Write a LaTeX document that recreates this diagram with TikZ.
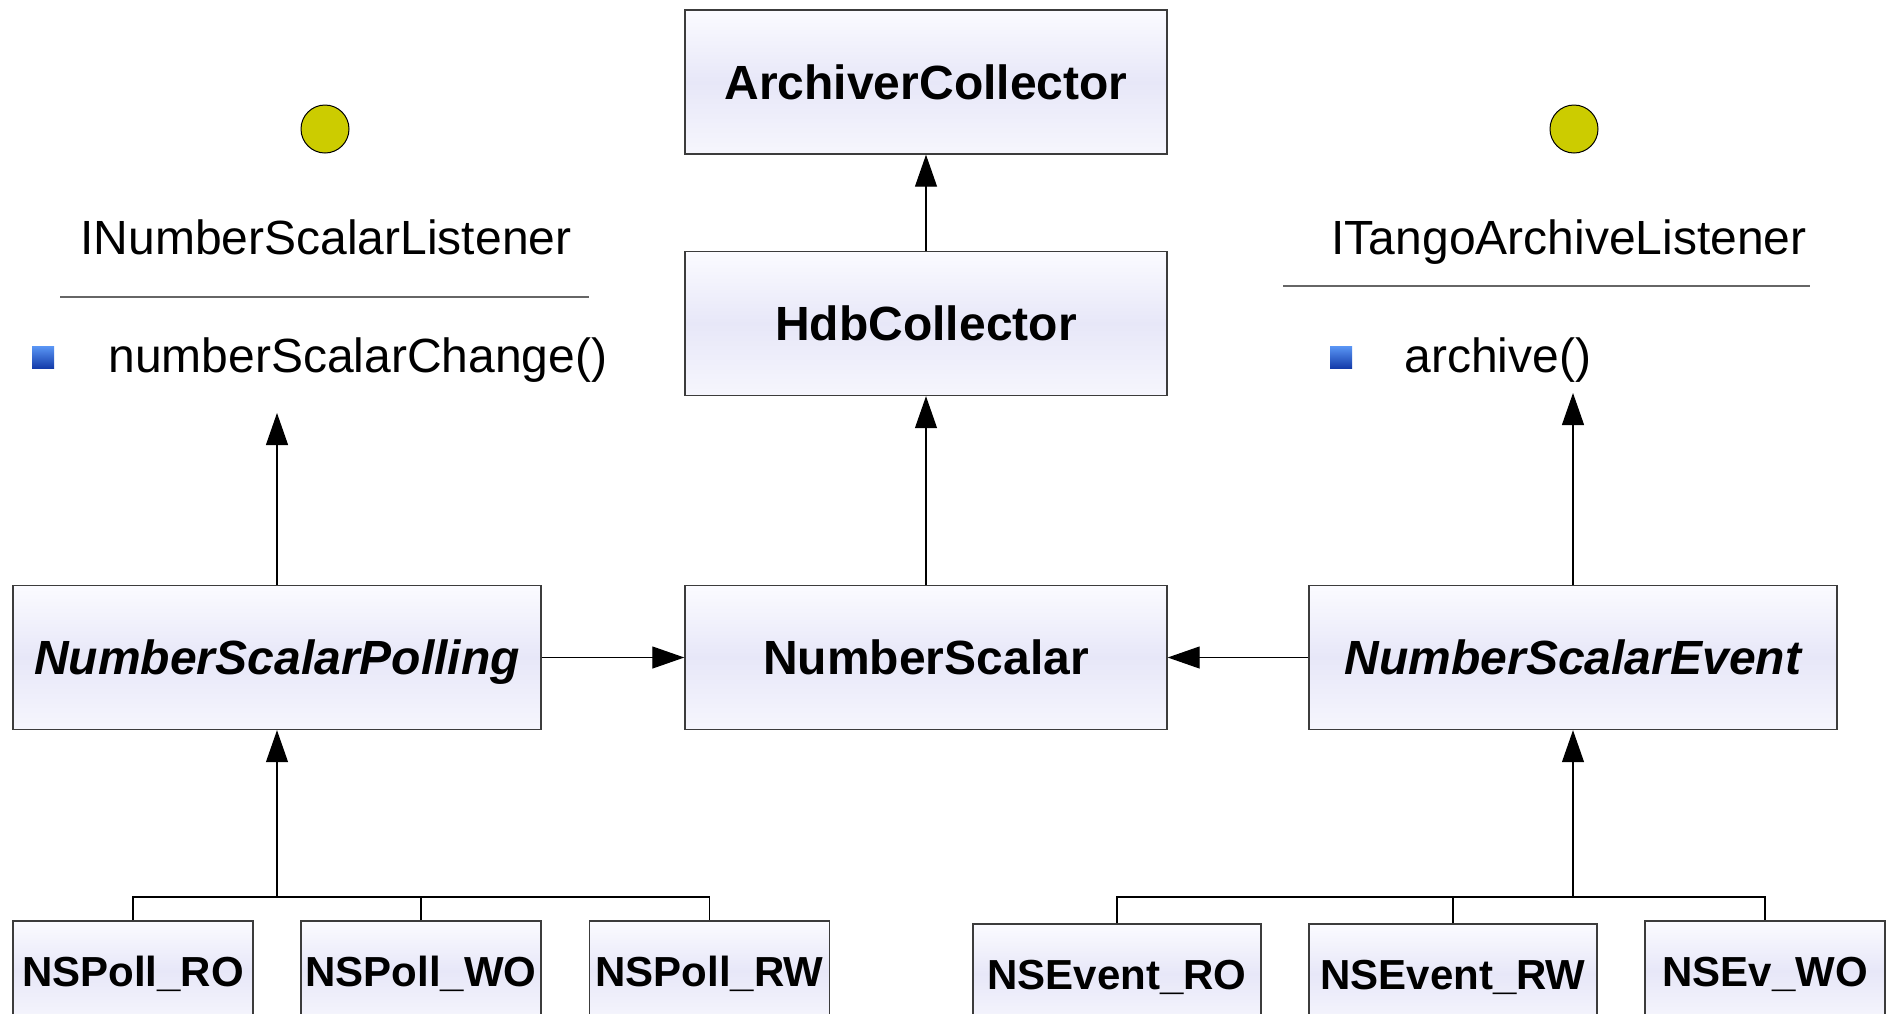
\documentclass[tikz,border=0pt]{standalone}
\usepackage{fontspec}
\setmainfont{Liberation Sans}
\usetikzlibrary{arrows.meta}
\definecolor{boxtop}{RGB}{251,251,255}
\definecolor{boxmid}{RGB}{231,231,248}
\definecolor{boxbot}{RGB}{246,246,253}
\definecolor{boxline}{RGB}{60,60,60}
\definecolor{iface}{RGB}{204,204,0}
\definecolor{pucehaut}{RGB}{90,150,245}
\definecolor{pucebas}{RGB}{20,60,170}

\begin{document}
\begin{tikzpicture}[x=0.5pt,y=-0.5pt,
	classe/.style={draw=boxline,line width=0.7pt,top color=boxtop,bottom color=boxbot,middle color=boxmid,
		minimum width=241pt,minimum height=72pt,inner sep=0pt,text height=17.2pt,text depth=0pt,
		font=\fontsize{24}{28}\selectfont\bfseries},
	fille/.style={classe,minimum width=120pt,minimum height=50pt,text height=15pt,
		font=\fontsize{21}{25}\selectfont\bfseries},
	interface/.style={inner sep=0pt,text height=17.2pt,text depth=0pt,font=\fontsize{24}{28}\selectfont},
	rond/.style={circle,draw,line width=0.5pt,fill=iface,minimum size=24pt,inner sep=0pt},
	puce/.style={rectangle,top color=pucehaut,bottom color=pucebas,minimum size=11pt,inner sep=0pt},
	separe/.style={draw=black!60,line width=0.7pt},
	herite/.style={-{Triangle[length=16pt,width=11pt]},line width=0.6pt},
	lien/.style={line width=0.6pt}]
					%\draw[help lines] (0,0) grid[step=100] (1891,1013);
					\path[fill=white,use as bounding box] (0,0) rectangle (1891,1013);
					%COLLECTEURS
					\node[classe] (ac) at (926,82) {ArchiverCollector};
					\node[classe] (hdb) at (926,323.5) {HdbCollector};
					\node[classe] (ns) at (926,657.5) {NumberScalar};
					\draw[herite] (hdb.north) -- (ac.south);
					\draw[herite] (ns.north) -- (hdb.south);
					
					%INTERFACE INumberScalarListener
					\node[rond] (lrond) at (325,129) {};
					\node[interface] (ltitre) at (326,237) {INumberScalarListener};
					\draw[separe] (60,297) -- (589,297);
					\node[puce] (lpuce) at (43,357) {};
					\node[interface,anchor=west] (lmeth) at (108,355) {numberScalarChange()};
					\coordinate (lfleche) at (277,413);
					
					%INTERFACE ITangoArchiveListener
					\node[rond] (rrond) at (1574,129) {};
					\node[interface] (rtitre) at (1569,237) {ITangoArchiveListener};
					\draw[separe] (1283,286) -- (1810,286);
					\node[puce] (rpuce) at (1341,357) {};
					\node[interface,anchor=west] (rmeth) at (1404,355) {archive()};
					\coordinate (rfleche) at (1573,393);
					
					%POLLING
					\node[classe,minimum width=264pt] (nsp) at (277,657.5) {\itshape NumberScalarPolling};
					\draw[herite] (nsp.north) -- (nsp.north |- lfleche);
					\draw[herite] (nsp.east) -- (ns.west);
					\node[fille] (pro) at (133,971) {NSPoll\_RO};
					\node[fille] (pwo) at (421,971) {NSPoll\_WO};
					\node[fille] (prw) at (709.5,971) {NSPoll\_RW};
					\coordinate (pbar) at (277,897);
					\draw[lien] (pro.north) |- (prw.north |- pbar) -- (prw.north);
					\draw[lien] (pwo.north) -- (pwo.north |- pbar);
					\draw[herite] (pbar) -- (nsp.south);
					
					%EVENT
					\node[classe,minimum width=264pt] (nse) at (1573,657.5) {\itshape NumberScalarEvent};
					\draw[herite] (nse.north) -- (nse.north |- rfleche);
					\draw[herite] (nse.west) -- (ns.east);
					\node[fille,minimum width=144pt] (ero) at (1117,974) {NSEvent\_RO};
					\node[fille,minimum width=144pt] (erw) at (1453,974) {NSEvent\_RW};
					\node[fille] (ewo) at (1765,971) {NSEv\_WO};
					\coordinate (ebar) at (1573,897);
					\draw[lien] (ero.north) |- (ewo.north |- ebar) -- (ewo.north);
					\draw[lien] (erw.north) -- (erw.north |- ebar);
					\draw[herite] (ebar) -- (nse.south);
				  \end{tikzpicture}
\end{document}
